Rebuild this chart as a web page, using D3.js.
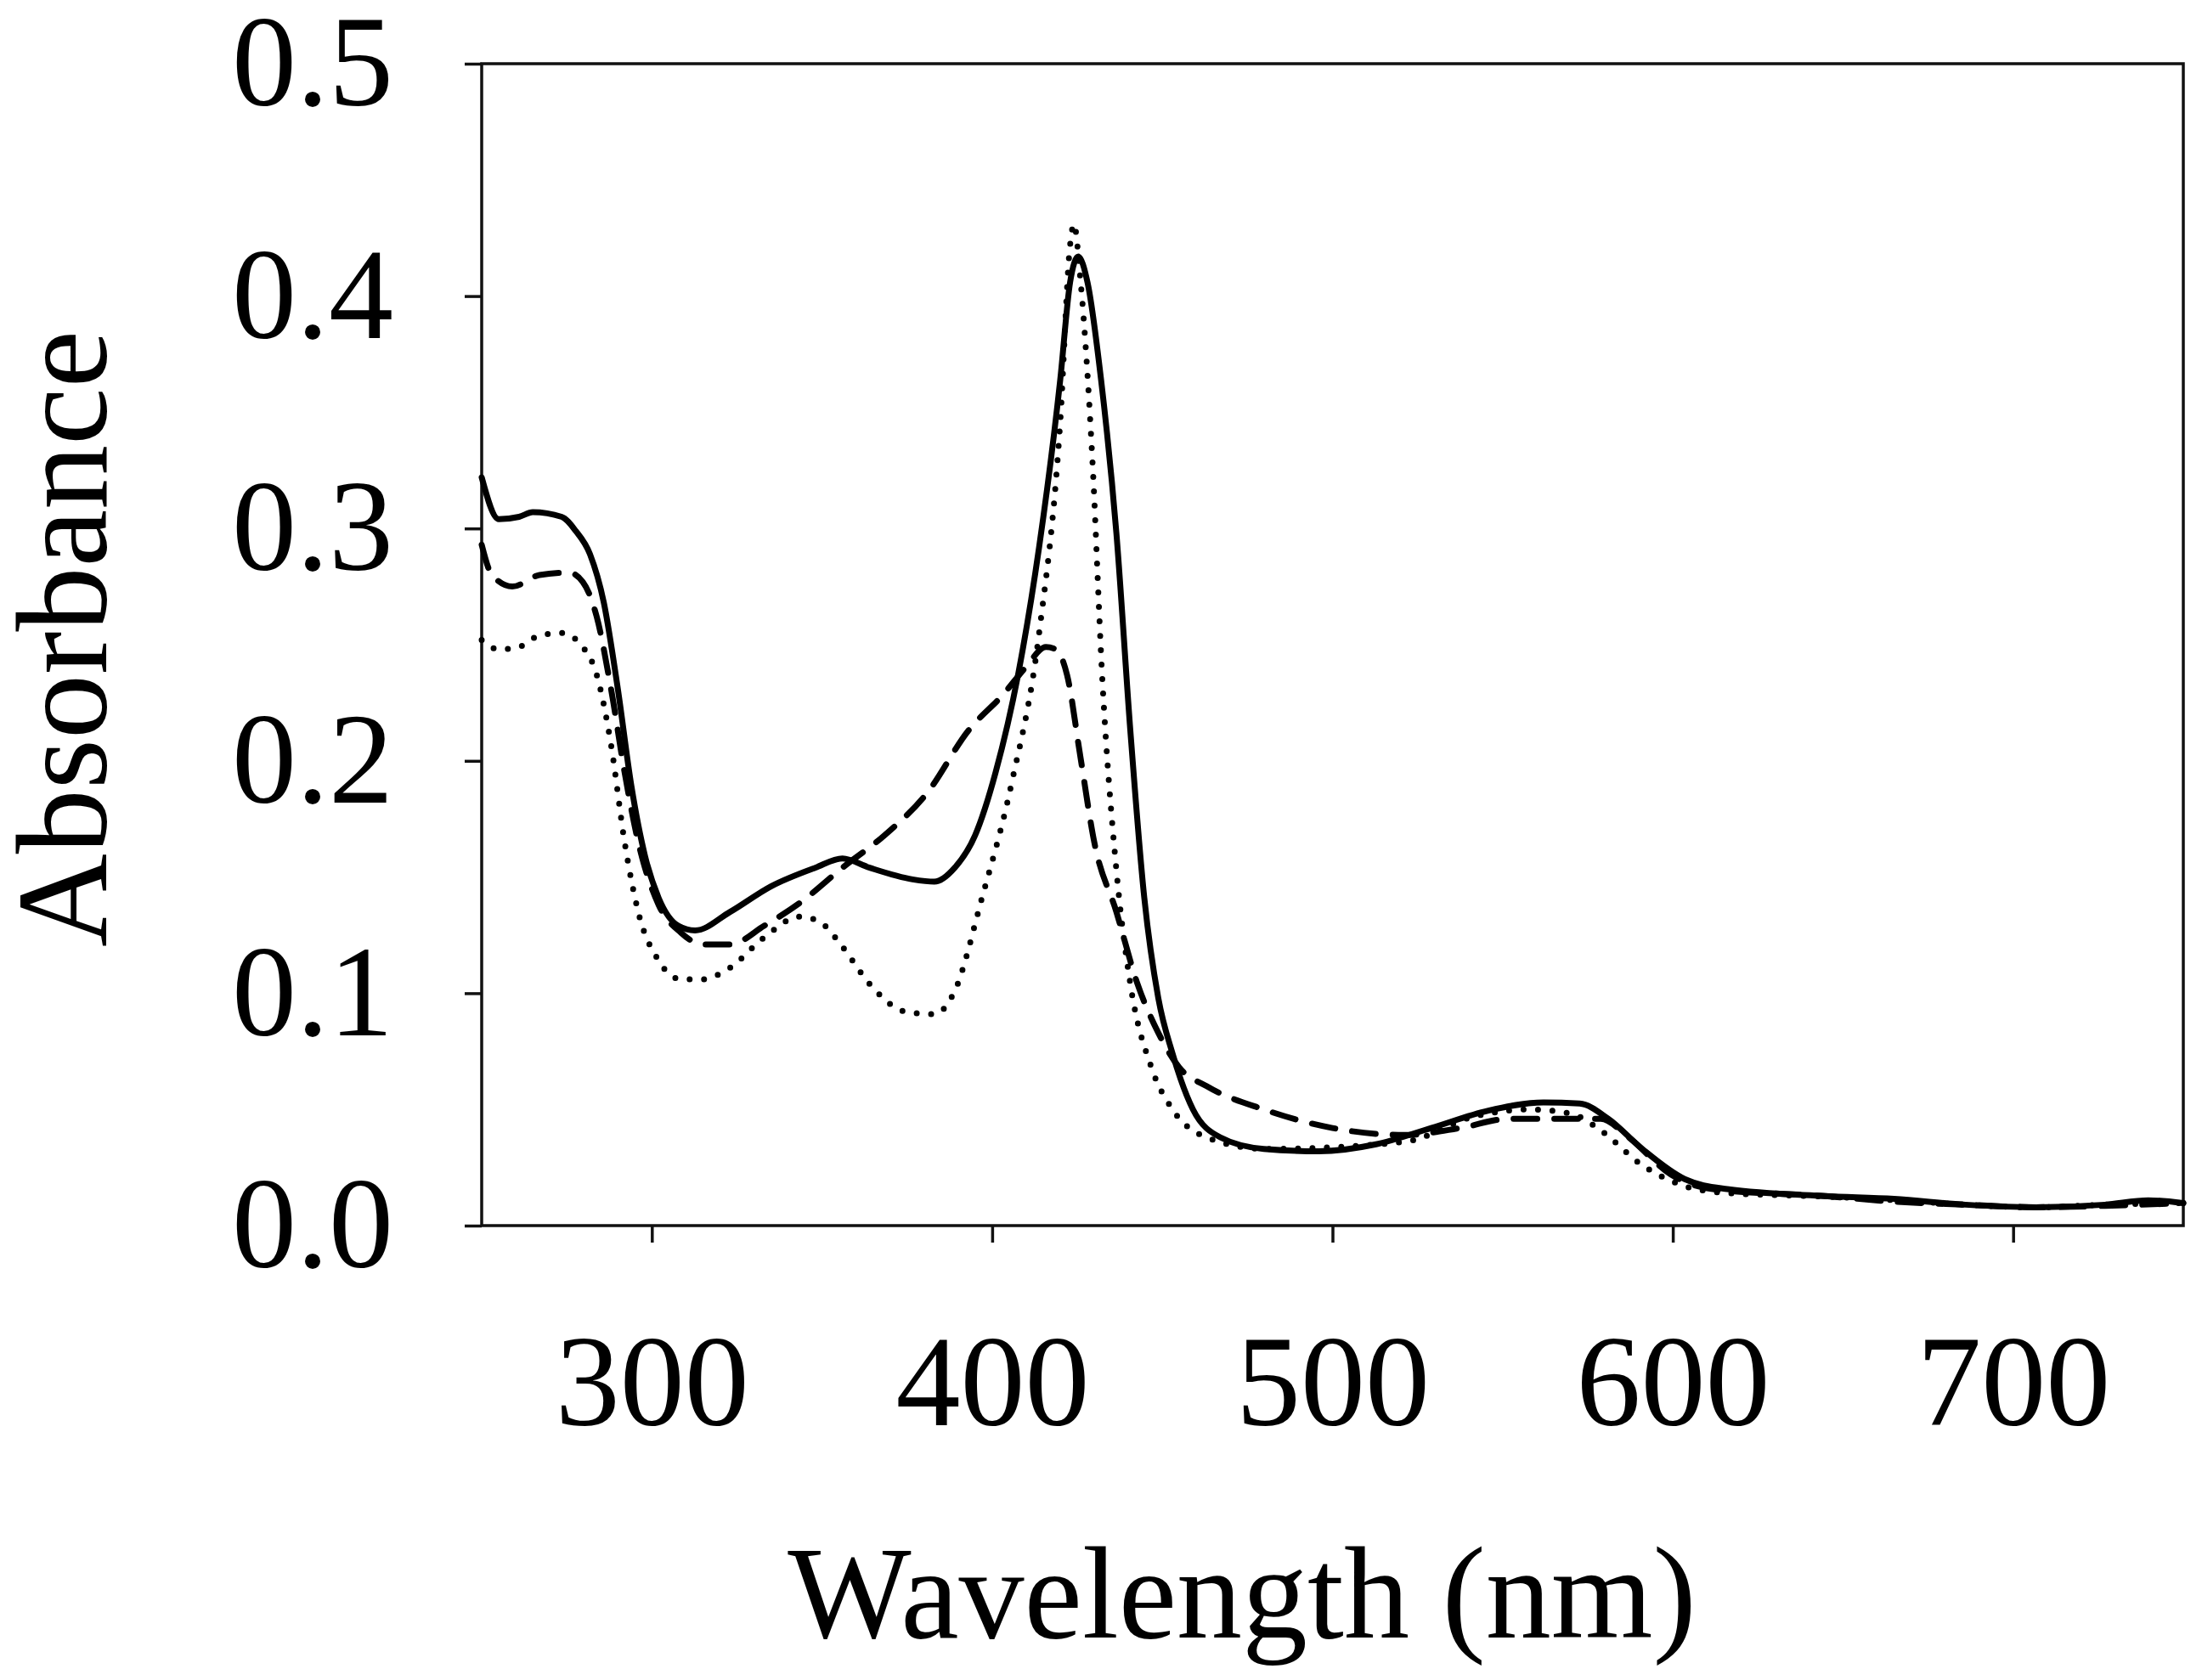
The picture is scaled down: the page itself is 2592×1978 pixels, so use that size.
<html>

<head>
  <style>
    body {
      padding: 0px;
      margin: 0px;
      background-color: white;
    }

    svg text {
      font-family: "Liberation Serif", "Times New Roman", serif;
      fill: black;
    }
  </style>
</head>

<body>
  <div id="chart"></div>
  <script src="https://cdnjs.cloudflare.com/ajax/libs/d3/7.8.5/d3.min.js"></script>
  <script>
    // solid trace
    var solidWl = [250, 255, 261, 265, 273.5, 277.6, 281.8, 285.9, 290, 294, 298, 302, 307.8, 312.7, 323, 335, 348, 356, 364, 376.6, 383, 389, 395, 401, 407.6, 413.8, 420, 422.9, 425.3, 428, 432, 436.5, 440.6, 444.7, 448.8, 453, 459, 467, 479.8, 496, 512.8, 529, 545.8, 562, 572.6, 581, 591, 603.5, 616, 644.8, 665, 686, 706.7, 727, 739.7, 750];
    var solidAbs = [0.322, 0.304, 0.305, 0.307, 0.305, 0.299, 0.289, 0.268, 0.231, 0.189, 0.159, 0.141, 0.129, 0.127, 0.135, 0.146, 0.154, 0.158, 0.154, 0.149, 0.148, 0.154, 0.168, 0.195, 0.237, 0.292, 0.364, 0.406, 0.417, 0.406, 0.364, 0.298, 0.213, 0.141, 0.098, 0.074, 0.050, 0.038, 0.033, 0.032, 0.035, 0.042, 0.0495, 0.053, 0.0525, 0.046, 0.033, 0.020, 0.0157, 0.0127, 0.0115, 0.009, 0.0079, 0.009, 0.0109, 0.0097];

    // dashed trace
    var dashWl = [250, 253, 259, 267, 275.6, 279.7, 283.8, 288, 292, 296, 302, 308.6, 314.8, 323, 333, 343.6, 356, 368.4, 380.8, 393, 403.5, 409.7, 415.8, 418.7, 422, 426, 430, 436.5, 442.7, 448.8, 455, 463, 479.8, 500, 521, 537.5, 552, 562, 578.8, 587, 599.4, 611.8, 644.8, 665, 686, 706.7, 727, 750];
    var dashAbs = [0.293, 0.280, 0.275, 0.280, 0.281, 0.277, 0.262, 0.231, 0.195, 0.165, 0.138, 0.126, 0.121, 0.121, 0.129, 0.139, 0.154, 0.168, 0.186, 0.213, 0.229, 0.240, 0.249, 0.248, 0.237, 0.201, 0.165, 0.135, 0.104, 0.083, 0.068, 0.060, 0.050, 0.042, 0.039, 0.042, 0.046, 0.046, 0.046, 0.038, 0.022, 0.0157, 0.0127, 0.0103, 0.009, 0.0079, 0.0085, 0.0097];

    // dotted trace
    var dotWl = [250, 255, 261, 267, 273.5, 279.7, 283.8, 288, 292, 296, 302, 308.6, 314.8, 323, 333, 343.6, 350, 356, 364, 374.6, 383, 389, 397, 405.5, 413.8, 420, 422.9, 424, 426, 429.5, 432.3, 436.5, 440.6, 446.8, 453, 463, 480, 521, 541.7, 558, 570.5, 578.8, 591, 603.5, 616, 644.8, 665, 686, 706.7, 727, 750];
    var dotAbs = [0.252, 0.248, 0.249, 0.254, 0.255, 0.249, 0.237, 0.207, 0.165, 0.135, 0.114, 0.106, 0.106, 0.111, 0.124, 0.133, 0.130, 0.120, 0.104, 0.092, 0.091, 0.101, 0.141, 0.189, 0.255, 0.346, 0.422, 0.431, 0.406, 0.328, 0.237, 0.153, 0.104, 0.068, 0.050, 0.038, 0.033, 0.036, 0.047, 0.050, 0.048, 0.041, 0.026, 0.017, 0.014, 0.0125, 0.011, 0.009, 0.0079, 0.009, 0.0097];

    var xTicks = [300, 400, 500, 600, 700];
    var yTicks = [0.0, 0.1, 0.2, 0.3, 0.4, 0.5];

    var svgWidth = 2592,
      svgHeight = 1978,
      plotLeft = 567,
      plotRight = 2570,
      plotTop = 75,
      plotBottom = 1443;

    var svg = d3.select('#chart').append('svg')
      .attr('width', svgWidth)
      .attr('height', svgHeight)

    var x = d3.scaleLinear().domain([250, 750]).range([plotLeft, plotRight]);
    var y = d3.scaleLinear().domain([0, 0.5]).range([plotBottom, plotTop]);

    // frame
    svg.append('rect')
      .attr('x', plotLeft)
      .attr('y', plotTop)
      .attr('width', plotRight - plotLeft)
      .attr('height', plotBottom - plotTop)
      .attr('fill', 'none')
      .attr('stroke', '#111')
      .attr('stroke-width', 3.5)

    var xAxis = svg.append('g')
      .attr('transform', 'translate(0,' + plotBottom + ')')
      .call(d3.axisBottom(x).tickValues(xTicks).tickSize(20).tickPadding(107).tickFormat(d3.format('d')))
    var yAxis = svg.append('g')
      .attr('transform', 'translate(' + plotLeft + ',0)')
      .call(d3.axisLeft(y).tickValues(yTicks).tickSize(20).tickPadding(84).tickFormat(d3.format('.1f')))

    svg.selectAll('.domain').remove();
    svg.selectAll('.tick line').attr('stroke', '#111').attr('stroke-width', 3.5);
    svg.selectAll('.tick text')
      .style('font-family', '"Liberation Serif", "Times New Roman", serif')
      .style('font-size', '152px')
      .attr('fill', 'black');

    // series
    var line = d3.line()
      .x(function(d) { return x(d[0]); })
      .y(function(d) { return y(d[1]); })
      .curve(d3.curveMonotoneX);

    function drawTrace(wl, abs, dash, w) {
      svg.append('path')
        .datum(d3.zip(wl, abs))
        .attr('d', line)
        .attr('fill', 'none')
        .attr('stroke', 'black')
        .attr('stroke-width', w)
        .attr('stroke-linecap', 'round')
        .attr('stroke-linejoin', 'round')
        .attr('stroke-dasharray', dash);
    }
    drawTrace(dotWl, dotAbs, '0,17', 7);
    drawTrace(dashWl, dashAbs, '28,20', 7);
    drawTrace(solidWl, solidAbs, null, 7);

    // axis titles
    svg.append('text')
      .attr('x', 1462)
      .attr('y', 1928)
      .attr('text-anchor', 'middle')
      .style('font-size', '154px')
      .text('Wavelength (nm)')

    svg.append('text')
      .attr('transform', 'translate(125,752) rotate(-90)')
      .attr('text-anchor', 'middle')
      .style('font-size', '152px')
      .text('Absorbance')
  </script>
</body>

</html>
